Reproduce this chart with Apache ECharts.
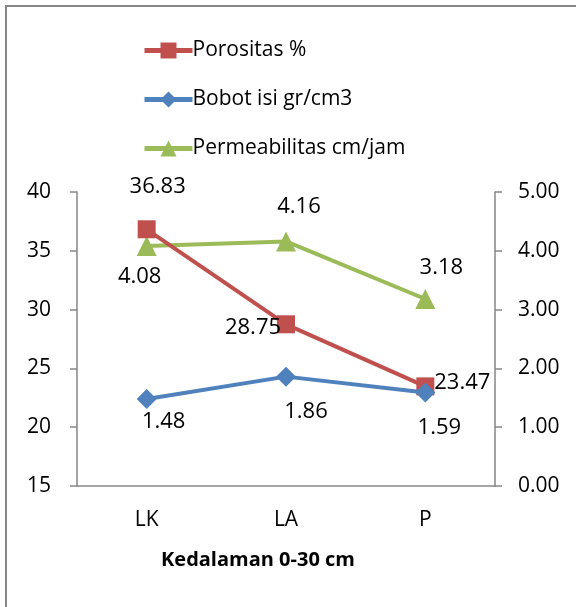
<!DOCTYPE html>
<html>
<head>
<meta charset="utf-8">
<script src="https://cdn.jsdelivr.net/npm/echarts@6/dist/echarts.min.js"></script>
<style>
html, body { margin: 0; padding: 0; background: #fff; }
#chart { width: 576px; height: 607px; }
</style>
</head>
<body>
<div id="chart"></div>
<script>
var categories = ['LK', 'LA', 'P'];
var porositas = [36.83, 28.75, 23.47];
var bobotIsi = [1.48, 1.86, 1.59];
var permeabilitas = [4.08, 4.16, 3.18];

// label offsets from each point (Excel placed them by hand)
var porLabelOffset = [[11, -43], [-33, 3], [37, -4]];
var bobLabelOffset = [[17, 23], [20, 35], [14, 35]];
var perLabelOffset = [[-7, 31], [13, -35], [16, -31]];

var FONT = 'Open Sans';

function withLabels(values, offsets) {
    return values.map(function (v, i) {
        return {
            value: v,
            label: { position: 'inside', offset: offsets[i], formatter: v.toFixed(2) }
        };
    });
}

var dom = document.getElementById('chart');
var myChart = echarts.init(dom);
var labelStyle = { show: true, color: '#000', fontFamily: FONT, fontSize: 22 };

var option = {
    animation: false,
    backgroundColor: '#fff',
    textStyle: { fontFamily: FONT },
    grid: { left: 77, right: 81, top: 192, bottom: 121, containLabel: false },
    legend: {
        orient: 'vertical',
        left: 137,
        top: 35,
        itemWidth: 48,
        itemHeight: 20,
        itemGap: 28,
        lineStyle: { width: 5 },
        textStyle: { color: '#000', fontSize: 21, fontFamily: FONT, padding: [0, 0, 0, -5] },
        data: ['Porositas %', 'Bobot isi gr/cm3', 'Permeabilitas cm/jam']
    },
    graphic: [
        {
            type: 'rect',
            shape: { x: 6, y: 6, width: 640, height: 660 },
            style: { fill: 'none', stroke: '#878787', lineWidth: 2 },
            silent: true
        },
        {
            type: 'text',
            x: 258,
            y: 560,
            style: {
                text: 'Kedalaman 0-30 cm',
                fontFamily: FONT,
                fontSize: 20,
                fontWeight: 'bold',
                fill: '#000',
                textAlign: 'center',
                textVerticalAlign: 'middle'
            }
        }
    ],
    xAxis: {
        type: 'category',
        data: categories,
        boundaryGap: true,
        axisLine: { lineStyle: { color: '#868686', width: 1.5 } },
        axisTick: { show: false },
        axisLabel: { color: '#000', fontSize: 21, fontFamily: FONT, margin: 24 }
    },
    yAxis: [
        {
            type: 'value',
            min: 15,
            max: 40,
            interval: 5,
            axisLine: { show: true, lineStyle: { color: '#868686', width: 1.5 } },
            axisTick: { show: true, length: 7, lineStyle: { color: '#868686', width: 1.5 } },
            splitLine: { show: false },
            axisLabel: { color: '#000', fontSize: 21, fontFamily: FONT, margin: 26 }
        },
        {
            type: 'value',
            min: 0,
            max: 5,
            interval: 1,
            position: 'right',
            axisLine: { show: true, lineStyle: { color: '#868686', width: 1.5 } },
            axisTick: { show: true, length: 7, lineStyle: { color: '#868686', width: 1.5 } },
            splitLine: { show: false },
            axisLabel: {
                color: '#000', fontSize: 21, fontFamily: FONT, margin: 23,
                formatter: function (v) { return v.toFixed(2); }
            }
        }
    ],
    series: [
        {
            name: 'Porositas %',
            type: 'line',
            yAxisIndex: 0,
            symbol: 'rect',
            symbolSize: 18,
            color: '#C0504D',
            lineStyle: { width: 4, color: '#C0504D' },
            itemStyle: { color: '#C0504D' },
            label: labelStyle,
            z: 3,
            data: withLabels(porositas, porLabelOffset)
        },
        {
            name: 'Bobot isi gr/cm3',
            type: 'line',
            yAxisIndex: 1,
            symbol: 'diamond',
            symbolSize: 20,
            color: '#4F81BD',
            lineStyle: { width: 4, color: '#4F81BD' },
            itemStyle: { color: '#4F81BD' },
            label: labelStyle,
            z: 4,
            data: withLabels(bobotIsi, bobLabelOffset)
        },
        {
            name: 'Permeabilitas cm/jam',
            type: 'line',
            yAxisIndex: 1,
            symbol: 'triangle',
            symbolSize: 20,
            color: '#9BBB59',
            lineStyle: { width: 4, color: '#9BBB59' },
            itemStyle: { color: '#9BBB59' },
            label: labelStyle,
            z: 2,
            data: withLabels(permeabilitas, perLabelOffset)
        }
    ]
};

if (option && typeof option === 'object') {
    myChart.setOption(option, true);
}
</script>
</body>
</html>
